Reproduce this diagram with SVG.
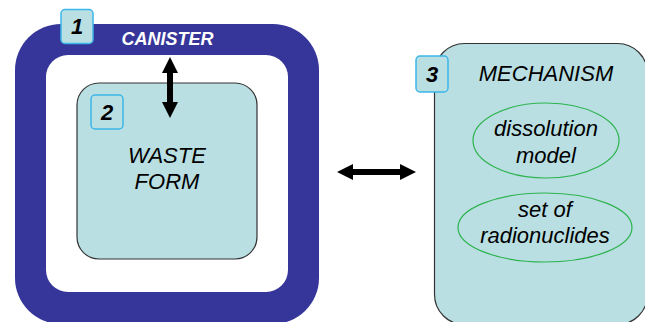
<svg xmlns="http://www.w3.org/2000/svg" width="645" height="322" viewBox="0 0 645 322">
<defs>
<style>
.badge{fill:#B9DFE3;stroke:#3DB6EA;stroke-width:1.5}
.badgetxt{font-family:"Liberation Sans",Arial,sans-serif;font-size:22px;font-weight:bold;font-style:italic;fill:#000;text-anchor:middle}
.box{fill:#B9DFE2;stroke:#333;stroke-width:1.2}
.lbl{font-family:"Liberation Sans",Arial,sans-serif;font-size:22px;font-style:italic;fill:#000;text-anchor:middle}
.oval{fill:none;stroke:#2DB34E;stroke-width:1.2}
.conn{stroke:#000;stroke-width:6;fill:none;marker-start:url(#ah);marker-end:url(#ah)}
</style>
<marker id="ah" viewBox="0 0 16 16" refX="1" refY="8" markerWidth="16" markerHeight="16" markerUnits="userSpaceOnUse" orient="auto-start-reverse">
<path d="M0,0 L16,8 L0,16 z" fill="#000"/>
</marker>
</defs>
<g id="canister">
<rect x="15" y="24" width="304" height="300" rx="46" fill="#36369A"/>
<rect x="46" y="55" width="242" height="237" rx="22" fill="#fff"/>
<text x="167.5" y="45" font-family="Liberation Sans,Arial,sans-serif" font-size="18" font-weight="bold" font-style="italic" fill="#fff" text-anchor="middle">CANISTER</text>
<rect class="badge" x="61" y="9.5" width="32" height="34" rx="4"/>
<text class="badgetxt" x="77" y="34">1</text>
</g>
<g id="waste-form">
<rect class="box" x="77" y="83" width="180" height="176" rx="22"/>
<rect class="badge" x="91" y="95" width="32" height="34" rx="4"/>
<text class="badgetxt" x="107" y="120">2</text>
<text class="lbl" x="167" y="163">WASTE</text>
<text class="lbl" x="167" y="189">FORM</text>
</g>
<g id="mechanism">
<rect class="box" x="434.5" y="43.5" width="213" height="281" rx="30"/>
<rect class="badge" x="416" y="56" width="32" height="36" rx="4"/>
<text class="badgetxt" x="432" y="82">3</text>
<text class="lbl" x="546" y="81">MECHANISM</text>
</g>
<g id="dissolution-model">
<ellipse class="oval" cx="546" cy="140.5" rx="73" ry="37.5"/>
<text class="lbl" x="546" y="136">dissolution</text>
<text class="lbl" x="546" y="163">model</text>
</g>
<g id="radionuclides">
<ellipse class="oval" cx="545" cy="227.5" rx="87" ry="34.5"/>
<text class="lbl" x="545" y="217">set of</text>
<text class="lbl" x="545" y="243">radionuclides</text>
</g>
<g id="connectors">
<line class="conn" x1="170" y1="72" x2="170" y2="103"/>
<line class="conn" x1="352" y1="172" x2="401" y2="172"/>
</g>
</svg>
